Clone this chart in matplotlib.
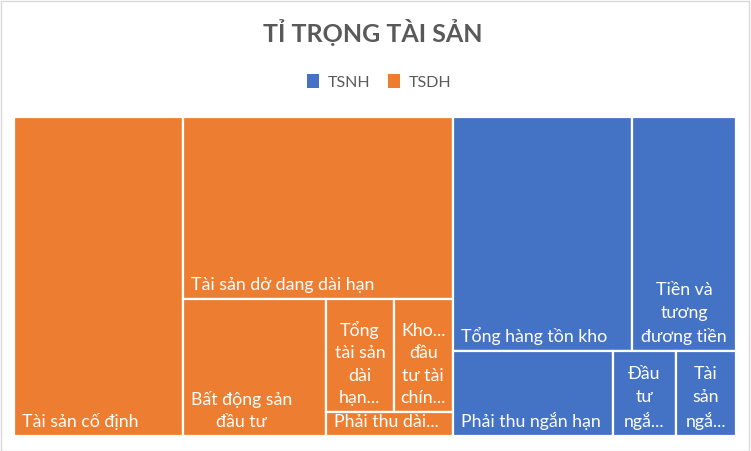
import matplotlib
matplotlib.use("Agg")
import matplotlib.pyplot as plt
from matplotlib.patches import Rectangle, Patch

plt.rcParams['font.family'] = ['Lato', 'DejaVu Sans']

# data (relative sizes)
groups = ["TSDH", "TSNH"]
legend_order = ["TSNH", "TSDH"]
group_colors = {"TSNH": "#4472C4", "TSDH": "#ED7D31"}

tsdh_labels = ["Tài sản cố định", "Tài sản dở dang dài hạn", "Bất động sản\nđầu tư",
               "Tổng\ntài sản\ndài\nhạn...", "Kho...\nđầu\ntư tài\nchín...", "Phải thu dài..."]
tsdh_values = [539, 491, 196, 77, 67, 30]

tsnh_labels = ["Tổng hàng tồn kho", "Tiền và\ntương\nđương tiền", "Phải thu ngắn hạn",
               "Đầu\ntư\nngắ...", "Tài\nsản\nngắ..."]
tsnh_values = [419, 243, 136, 54, 51]

group_items = {"TSDH": (tsdh_labels, tsdh_values), "TSNH": (tsnh_labels, tsnh_values)}


def avg_ratio(row, side):
    thick = sum(row) / side
    r = []
    for v in row:
        length = v / thick
        r.append(max(thick / length, length / thick))
    return sum(r) / len(r)


def squarify(values, x, y, w, h):
    scale = w * h / sum(values)
    vals = [v * scale for v in values]
    rects = []
    i = 0
    while i < len(vals):
        rest = vals[i:]
        if len(rest) == 1:
            rects.append((x, y, w, h))
            break
        side = min(w, h)
        row = [rest[0]]
        best = avg_ratio(row, side)
        for v in rest[1:]:
            r = avg_ratio(row + [v], side)
            if r <= best:
                row.append(v)
                best = r
            else:
                break
        s = sum(row)
        if w >= h:
            cw = s / h
            yy = y
            for v in row:
                rects.append((x, yy, cw, v / cw))
                yy += v / cw
            x += cw
            w -= cw
        else:
            rh = s / w
            xx = x
            for v in row:
                rects.append((xx, y, v / rh, rh))
                xx += v / rh
            y += rh
            h -= rh
        i += len(row)
    return rects


W, H = 722, 319
fig = plt.figure(figsize=(7.51, 4.51), dpi=100)
ax = fig.add_axes([14 / 751, 15 / 451, W / 751, H / 451])
ax.set_xlim(0, W)
ax.set_ylim(H, 0)
ax.axis("off")

group_totals = [sum(group_items[g][1]) for g in groups]
group_rects = squarify(group_totals, 0, 0, W, H)

for g, (gx, gy, gw, gh) in zip(groups, group_rects):
    labels, values = group_items[g]
    for lab, (x, y, w, h) in zip(labels, squarify(values, gx, gy, gw, gh)):
        ax.add_patch(Rectangle((x, y), w, h, facecolor=group_colors[g],
                               edgecolor="white", linewidth=1.6))
        if w < 120 and "\n" in lab:
            ax.text(x + w / 2, y + h - 6, lab, ha="center", va="bottom",
                    multialignment="center", color="white", fontsize=12.8,
                    linespacing=1.5)
        else:
            ax.text(x + 8, y + h - 6, lab, ha="left", va="bottom",
                    multialignment="center", color="white", fontsize=12.8,
                    linespacing=1.5)

fig.text(0.497, 1 - 41.5 / 451, "TỈ TRỌNG TÀI SẢN", ha="center", va="baseline",
         fontsize=18, fontweight="bold", color="#595959")

handles = [Patch(facecolor=group_colors[g], edgecolor="none") for g in legend_order]
fig.legend(handles, legend_order, loc="center", bbox_to_anchor=(0.505, 1 - 82 / 451),
           ncol=2, frameon=False, fontsize=11.5, labelcolor="#595959",
           handlelength=0.75, handleheight=0.9, handletextpad=0.55, columnspacing=1.05)

fig.patches.append(Rectangle((0.001, 0.001), 0.997, 0.996, transform=fig.transFigure,
                             fill=False, edgecolor="#D9D9D9", linewidth=1))

fig.savefig("out.png", dpi=100)
